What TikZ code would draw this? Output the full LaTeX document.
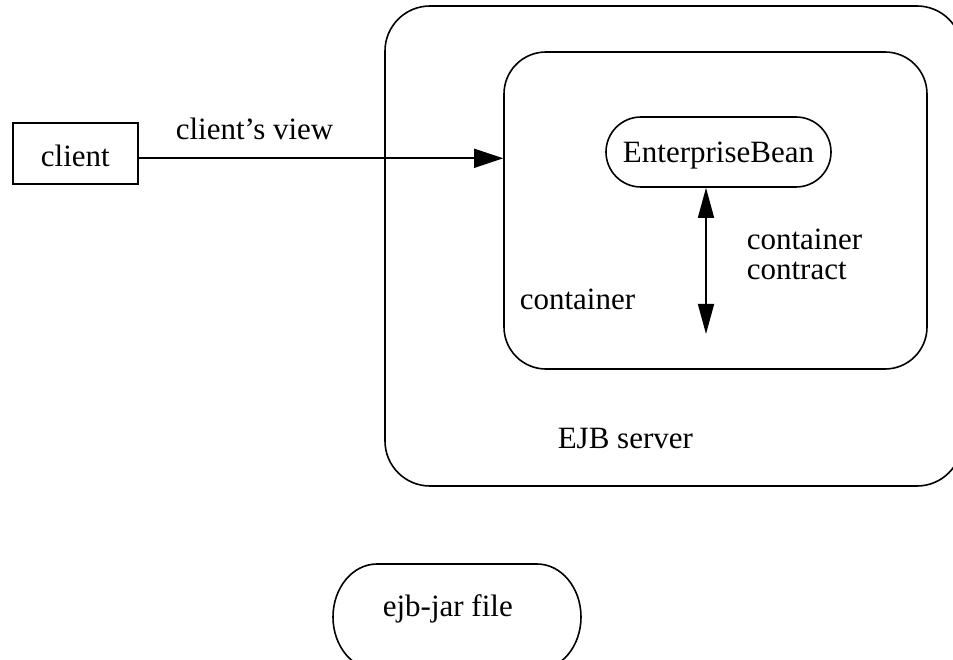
\documentclass[tikz,border=0pt]{standalone}
\usepackage{fontspec}
\setmainfont{Liberation Serif}
\usetikzlibrary{arrows.meta}
\begin{document}
\begin{tikzpicture}[x=1pt,y=-1pt,line width=1.6pt,
  font=\fontsize{31}{31}\selectfont,
  box/.style={draw,inner sep=0pt,line width=1.6pt},
  lbl/.style={inner sep=0pt,anchor=base west},
  arrA/.style={-{Triangle[length=29pt,width=19pt]}},
  arrB/.style={{Triangle[length=30pt,width=16pt]}-{Triangle[length=30pt,width=16pt]}}]
\useasboundingbox (0,0) rectangle (953,660);
% EJB server
\node[box,minimum width=577pt,minimum height=480pt,rounded corners=45pt] (server) at (673.5,246) {};
% container
\node[box,minimum width=423pt,minimum height=317pt,rounded corners=42pt] (container) at (715.5,210.5) {};
% EnterpriseBean
\node[box,minimum width=225pt,minimum height=70pt,rounded corners=35pt,text depth=0pt] (bean) at (718.5,152) {EnterpriseBean};
% client
\node[box,minimum width=125pt,minimum height=61pt,text height=26.4pt,text depth=0pt] (client) at (75.3,153.8) {client};
% labels
\node[lbl] (view) at (175,140) {client’s view};
\node[lbl] (contlbl) at (519,309) {container};
\node[lbl,align=left] (contract) at (746,280) {container\\contract};
\node[lbl] (serverlbl) at (557,448) {EJB server};
\node[lbl] (jar) at (382,616) {ejb-jar file};
\draw (377,564) -- (537,564) arc[start angle=-90,end angle=90,x radius=44,y radius=53]
      -- (377,670) arc[start angle=90,end angle=270,x radius=44,y radius=53] -- cycle;
% connectors
\draw[arrA] ([yshift=-4.5pt]client.east) -- ([yshift=-4.5pt]client.east -| container.west);
\coordinate (cc) at (706,334);
\draw[arrB] (cc |- bean.south) -- (cc);
\end{tikzpicture}
\end{document}
